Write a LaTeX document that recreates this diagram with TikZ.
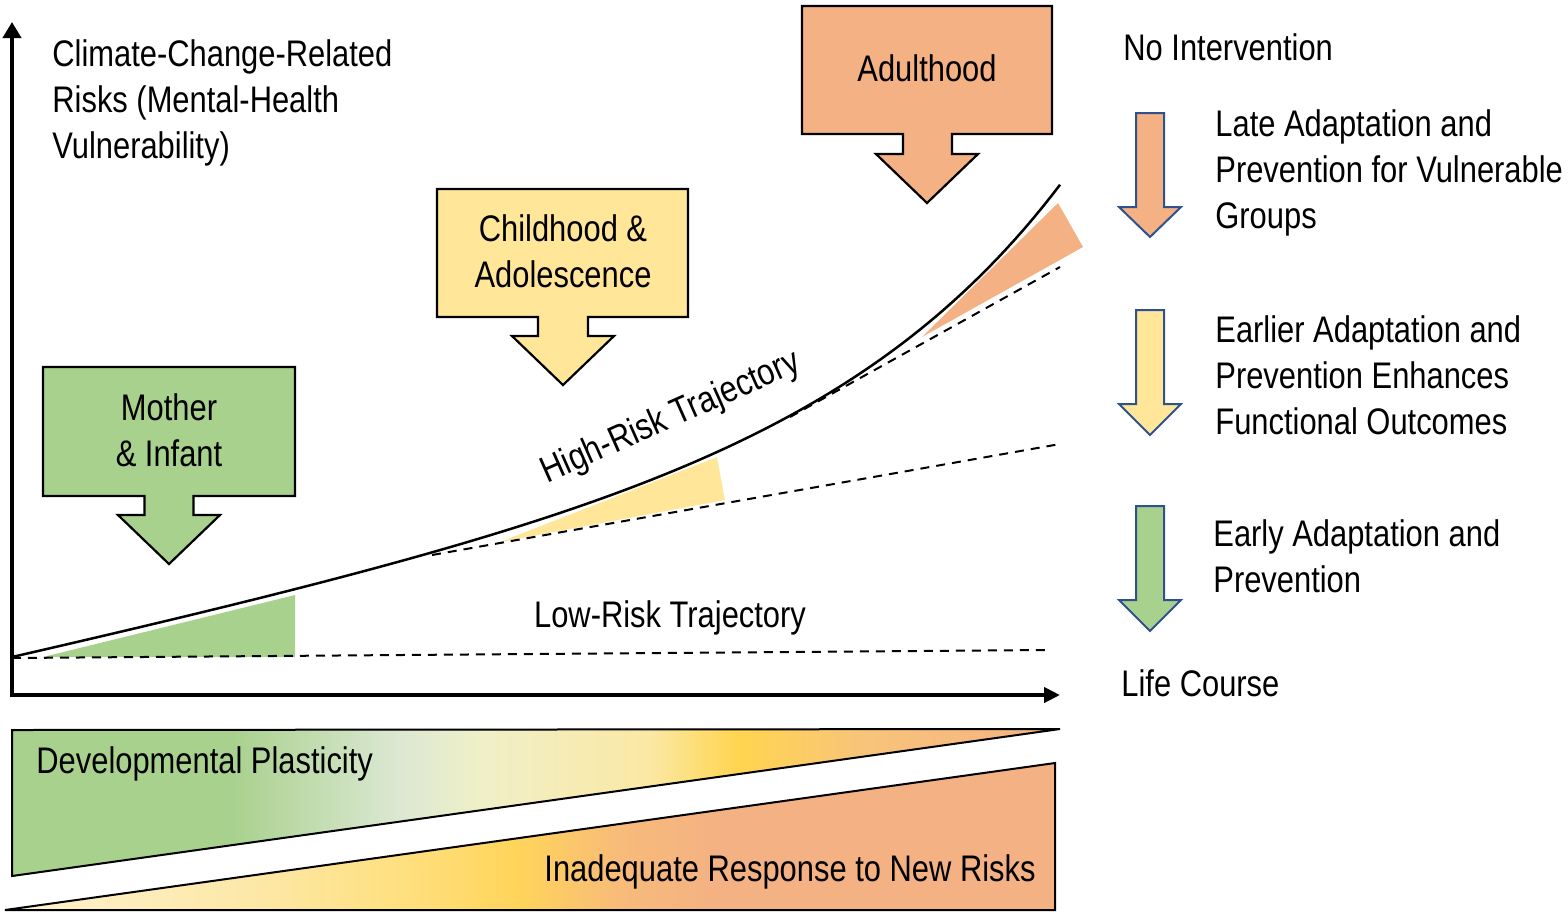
\documentclass[tikz,border=0pt]{standalone}
\usepackage{fontspec}
\setmainfont{Liberation Sans}[FakeStretch=0.835]
\usetikzlibrary{arrows.meta}
\definecolor{cgreen}{HTML}{A9D18E}
\definecolor{cyellow}{HTML}{FFE699}
\definecolor{corange}{HTML}{F4B183}
\definecolor{cnavy}{HTML}{2F528F}
\definecolor{pA}{HTML}{A9D18E}
\definecolor{pB}{HTML}{DCE8D3}
\definecolor{pC}{HTML}{EFF0C8}
\definecolor{pD}{HTML}{FBE8A4}
\definecolor{pE}{HTML}{FFD54F}
\definecolor{pF}{HTML}{F8C47A}
\definecolor{pG}{HTML}{F4B183}
\definecolor{rA}{HTML}{FFF3CF}
\definecolor{rB}{HTML}{FCE8A8}
\definecolor{rC}{HTML}{FFE080}
\definecolor{rD}{HTML}{FFD45A}
\definecolor{rE}{HTML}{F7BB7A}
\pgfdeclarehorizontalshading{plastshade}{100bp}{color(0bp)=(pA); color(35.5bp)=(pA); color(43.5bp)=(pB); color(47.3bp)=(pC); color(55.4bp)=(pD); color(59.7bp)=(pE); color(65.5bp)=(pF); color(75bp)=(pG); color(100bp)=(pG)}
\pgfdeclarehorizontalshading{respshade}{100bp}{color(0bp)=(rA); color(25bp)=(rA); color(36.7bp)=(rB); color(43.8bp)=(rC); color(49.5bp)=(rD); color(54.3bp)=(rE); color(59bp)=(pG); color(100bp)=(pG)}
\tikzset{
  lbl/.style={font=\fontsize{18.5}{23}\selectfont, inner sep=0pt, align=left, text=black},
  callout/.style={line width=1.1pt, draw=black, line join=miter},
  sidearrow/.style={line width=1pt, draw=cnavy, line join=miter},
  trajdash/.style={line width=1pt, dash pattern=on 4.5pt off 3.5pt},
  axisline/.style={line width=2pt}
}
\begin{document}
\begin{tikzpicture}[x=0.5pt,y=-0.5pt]
\useasboundingbox (0,0) rectangle (1568,918);

% bottom bars
\shadedraw[shading=plastshade, line width=1pt] (12,730) -- (1060,729) -- (12,876) -- cycle;
\shadedraw[shading=respshade, line width=1pt] (5,910) -- (1055,910) -- (1055,763) -- cycle;
\node[lbl, anchor=west] (plast) at (36,764) {Developmental Plasticity};
\node[lbl, anchor=east] (resp) at (1036,872) {Inadequate Response to New Risks};

% coloured wedges
\fill[cgreen] (43,657) -- (295,657) -- (295,595) -- cycle;
\fill[cyellow] (500,542) -- (717,457) -- (725,500) -- cycle;
\fill[corange] (922,337) -- (1058,203) -- (1083,247) -- cycle;

% dashed trajectories
\draw[trajdash] (12,658) -- (1048,650);
\draw[trajdash] (432,555) -- (1060,444);
\draw[trajdash] (790,417) -- (1060,267);

% high-risk curve
\draw[line width=1.25pt] plot[domain=12:1060, samples=120] (\x,{657-0.22*(\x-12)-2.18*(exp(0.0045*(\x-12))-1)});

% axes
\draw[axisline, -{Triangle[length=8pt,width=9pt]}] (12,697) -- (12,22);
\draw[axisline, -{Triangle[length=8pt,width=7.5pt]}] (10,695) -- (1060,695);

% trajectory labels
\node[lbl, rotate=24] (high) at (671,418) {High-Risk Trajectory};
\node[lbl] (low) at (670,618) {Low-Risk Trajectory};

% callouts
\filldraw[callout, fill=cgreen] (43,367) -- (295,367) -- (295,496) -- (193.5,496) -- (193.5,515) -- (220,515) -- (169,564) -- (118,515) -- (144.5,515) -- (144.5,496) -- (43,496) -- cycle;
\node[lbl, align=center] (mother) at (169,430) {Mother\\\& Infant};

\filldraw[callout, fill=cyellow] (437,189) -- (688,189) -- (688,317) -- (588,317) -- (588,336) -- (614,336) -- (563,385) -- (512,336) -- (538,336) -- (538,317) -- (437,317) -- cycle;
\node[lbl, align=center] (child) at (563,251) {Childhood \&\\Adolescence};

\filldraw[callout, fill=corange] (802,6) -- (1052,6) -- (1052,134) -- (952,134) -- (952,154) -- (978,154) -- (927,203) -- (876,154) -- (903,154) -- (903,134) -- (802,134) -- cycle;
\node[lbl, align=center] (adult) at (927,68) {Adulthood};

% y-axis label
\node[lbl, anchor=west] (ylab) at (52,103) {Climate-Change-Related\\Risks (Mental-Health\\Vulnerability)};

% side arrows
\filldraw[sidearrow, fill=corange] (1136,113) -- (1164,113) -- (1164,207) -- (1181,207) -- (1150,237) -- (1119,207) -- (1136,207) -- cycle;
\filldraw[sidearrow, fill=cyellow] (1136,310) -- (1164,310) -- (1164,404) -- (1181,404) -- (1150,435) -- (1119,404) -- (1136,404) -- cycle;
\filldraw[sidearrow, fill=cgreen] (1136,506) -- (1164,506) -- (1164,600) -- (1181,600) -- (1150,631) -- (1119,600) -- (1136,600) -- cycle;

% right-hand texts
\node[lbl, anchor=west] (noint) at (1123,47) {No Intervention};
\node[lbl, anchor=west] (late) at (1215,173) {Late Adaptation and\\Prevention for Vulnerable\\Groups};
\node[lbl, anchor=west] (earlier) at (1215,375) {Earlier Adaptation and\\Prevention Enhances\\Functional Outcomes};
\node[lbl, anchor=west] (early) at (1213,556) {Early Adaptation and\\Prevention};
\node[lbl, anchor=west] (life) at (1121,683) {Life Course};
\end{tikzpicture}
\end{document}
